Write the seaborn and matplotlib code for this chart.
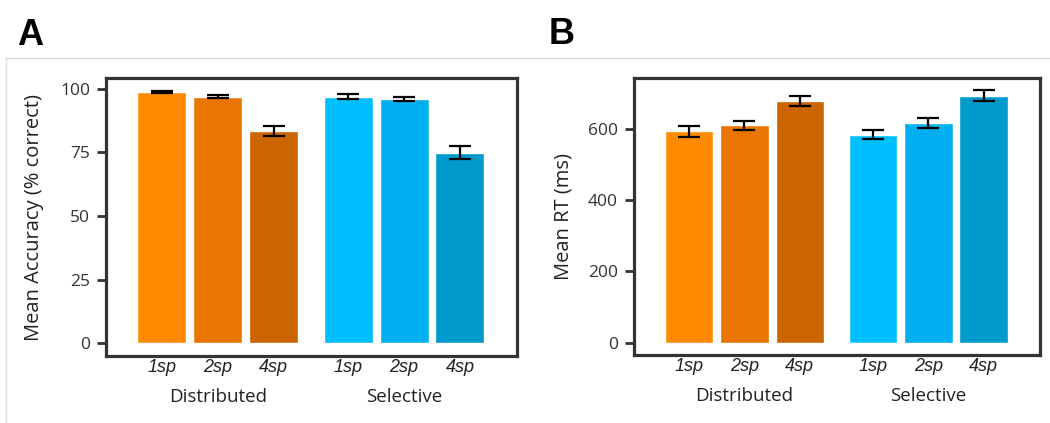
import seaborn as sns
import pandas as pd
import matplotlib.pyplot as plt
import matplotlib.transforms as mtrans
from matplotlib.lines import Line2D

# --- data ---
groups = ['Distributed', 'Selective']
setsizes = ['1sp', '2sp', '4sp']
positions = [0, 1, 2, 3.33, 4.33, 5.33]

acc_mean = [98.8, 97.0, 83.6, 97.0, 96.1, 74.9]
acc_err = [0.3, 0.6, 2.0, 0.9, 0.7, 2.5]

rt_mean = [593, 610, 678, 584, 617, 693]
rt_err = [15, 13, 15, 12, 15, 15]

bar_colors = ['#FF8A00', '#EA7500', '#CB6500', '#00BFFF', '#00AFEF', '#009BCC']

labels = [g + ' ' + s for g in groups for s in setsizes]
df = pd.DataFrame({'pos': positions, 'bar': labels,
                   'acc': acc_mean, 'rt': rt_mean})

sns.set_style('white')
plt.rcParams['font.family'] = ['Open Sans', 'DejaVu Sans']

fig = plt.figure(figsize=(10.5, 4.23), dpi=100)
axA = fig.add_axes([106/1050, 1 - 356/423, 411/1050, 278/423])
axB = fig.add_axes([634/1050, 1 - 355/423, 406/1050, 277/423])


def draw_panel(ax, col, err, ylim, yticks, ylabel):
    sns.barplot(data=df, x='pos', y=col, hue='bar', palette=bar_colors,
                native_scale=True, dodge=False, width=0.875, saturation=1,
                legend=False, ax=ax)
    ax.errorbar(df['pos'], df[col], yerr=err, fmt='none', ecolor='black',
                elinewidth=1.6, capsize=8, capthick=1.6, zorder=5)
    ax.set_xlim(-1.0, 6.35)
    ax.set_ylim(*ylim)
    ax.set_yticks(yticks)
    ax.set_yticklabels([str(t) for t in yticks], fontsize=12.5, color='#333333')
    ax.set_xticks(positions)
    ax.set_xticklabels(setsizes * 2, fontsize=13, style='italic',
                       family='Liberation Sans', color='#222222')
    ax.tick_params(axis='x', length=0, pad=2)
    ax.tick_params(axis='y', length=6.5, width=2, color='#333333', pad=5,
                   left=True)
    ax.set_xlabel('')
    ax.set_ylabel(ylabel, fontsize=14.5, color='#222222')
    ax.yaxis.set_label_coords(-0.15, 0.5)
    for sp in ax.spines.values():
        sp.set_visible(True)
        sp.set_linewidth(2.3)
        sp.set_color('#333333')
    trans = mtrans.blended_transform_factory(ax.transData, ax.transAxes)
    ax.text(1, -0.148, groups[0], transform=trans, ha='center', va='center',
            fontsize=13.5, color='#222222')
    ax.text(4.33, -0.148, groups[1], transform=trans, ha='center', va='center',
            fontsize=13.5, color='#222222')


draw_panel(axA, 'acc', acc_err, (-5.1, 104.3), [0, 25, 50, 75, 100],
           'Mean Accuracy (% correct)')
draw_panel(axB, 'rt', rt_err, (-35, 743), [0, 200, 400, 600], 'Mean RT (ms)')

# panel letters and the thin frame lines of the original figure
fig.text(17/1050, 1 - 45/423, 'A', fontsize=26, fontweight='bold',
         family='Liberation Sans', color='black', ha='left', va='baseline')
fig.text(549/1050, 1 - 44/423, 'B', fontsize=26, fontweight='bold',
         family='Liberation Sans', color='black', ha='left', va='baseline')
fig.add_artist(Line2D([5/1050, 1], [1 - 58/423, 1 - 58/423],
                      color='#D8D8D8', lw=1))
fig.add_artist(Line2D([6/1050, 6/1050], [0, 1 - 58/423],
                      color='#E0E0E0', lw=1))

fig.savefig('out.png', dpi=100)
